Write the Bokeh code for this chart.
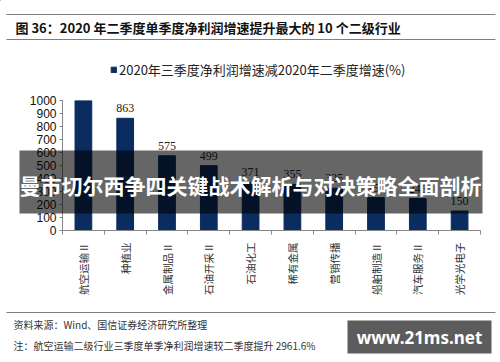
import math
from bokeh.plotting import figure
from bokeh.models import (ColumnDataSource, LabelSet, Legend, LegendItem,
                          FixedTicker, Range1d, GridBox)
from bokeh.core.properties import value
from bokeh.embed import file_html
from bokeh.resources import INLINE

categories = ["航空运输Ⅱ", "种植业", "金属制品Ⅱ", "石油开采Ⅱ", "石油化工",
              "稀有金属", "营销传播", "船舶制造Ⅱ", "汽车服务Ⅱ", "光学光电子"]
values = [2961.6, 863, 575, 499, 371, 355, 325, 253, 246, 150]
y_ticks = [0, 100, 200, 300, 400, 500, 600, 700, 800, 900, 1000]
y_max = 1000
series_name = "2020年三季度净利润增速减2020年二季度增速(%)"
title_text = "图 36：2020 年二季度单季度净利润增速提升最大的 10 个二级行业"
source_text = "资料来源：Wind、国信证券经济研究所整理"
note_text = "注：航空运输二级行业三季度单季净利润增速较二季度提升 2961.6%"
banner_text = "曼市切尔西争四关键战术解析与对决策略全面剖析"
watermark_text = "www.21ms.net"

CJK = "Noto Sans CJK SC"
LAT = "Liberation Sans"
BAR = "#0B2C5F"
W, H = 500, 362

xs = [i + 0.5 for i in range(len(categories))]
labels = [str(int(v)) if v <= y_max else "" for v in values]
src = ColumnDataSource(dict(x=xs, top=values, lab=labels))

FL, FR, FT, FB = 62, 20, 100, 132
FW, FH = W - FL - FR, H - FT - FB

# ---------------- main chart ----------------
p = figure(frame_width=FW, frame_height=FH, x_range=Range1d(0, len(categories)),
           y_range=Range1d(0, y_max), output_backend="svg", toolbar_location=None,
           min_border_left=FL, min_border_right=FR, min_border_top=FT, min_border_bottom=FB)
p.frame_align = False
p.outline_line_color = None
p.xgrid.visible = False
p.ygrid.visible = False
p.background_fill_color = "white"
p.border_fill_color = "white"

r = p.vbar(x="x", top="top", width=0.4, source=src, fill_color=BAR, line_color=BAR)

p.add_layout(LabelSet(x="x", y="top", text="lab", source=src, y_offset=6,
                      text_align="center", text_baseline="bottom",
                      text_font=LAT, text_font_size="12px", text_color="#222222"))

p.xaxis.ticker = FixedTicker(ticks=xs, minor_ticks=list(range(len(categories) + 1)))
p.xaxis.major_label_overrides = {x: c for x, c in zip(xs, categories)}
p.xaxis.major_label_orientation = math.pi / 2
p.xaxis.major_tick_out = 0
p.xaxis.major_tick_in = 0
p.xaxis.minor_tick_out = 4
p.xaxis.minor_tick_in = 0
p.xaxis.minor_tick_line_color = "#868686"
p.xaxis.axis_line_color = "#868686"
p.xaxis.major_label_text_font = CJK
p.xaxis.major_label_text_font_size = "10.5px"
p.xaxis.major_label_text_color = "#333333"
p.xaxis.major_label_standoff = 8

p.yaxis.ticker = FixedTicker(ticks=y_ticks, minor_ticks=[])
p.yaxis.major_tick_out = 3
p.yaxis.major_tick_in = 0
p.yaxis.major_tick_line_color = "#868686"
p.yaxis.axis_line_color = "#868686"
p.yaxis.major_label_text_font = LAT
p.yaxis.major_label_text_font_size = "12px"
p.yaxis.major_label_text_color = "#111111"
p.yaxis.major_label_standoff = 3

# ---------------- overlay (page decorations, legend, banner, watermark) ----------------
o = figure(width=W, height=H, x_range=Range1d(0, W), y_range=Range1d(H, 0),
           x_axis_type=None, y_axis_type=None, output_backend="svg", toolbar_location=None,
           min_border=0)
o.frame_align = False
o.outline_line_color = None
o.xgrid.visible = False
o.ygrid.visible = False
o.background_fill_color = None
o.border_fill_color = None

# horizontal rules
o.segment(x0=[6, 6, 6], x1=[495, 495, 495], y0=[14, 39, 312], y1=[14, 39, 312],
          line_color="#7f7f7f", line_width=1.2)

o.text(x=[15], y=[27], text=[title_text], text_font=value(CJK), text_font_size="13px",
       text_font_style="bold", text_color="#111111", text_baseline="middle")
o.text(x=[13, 13], y=[324, 345], text=[source_text, note_text], text_font=value(CJK),
       text_font_size="10px", text_color="#333333", text_baseline="middle")

# legend swatch renderer (kept off-canvas, styled as the bars)
dummy = o.vbar(x=[-100], top=[-100], bottom=[-90], width=1, fill_color=BAR, line_color=BAR)
legend = Legend(items=[LegendItem(label=series_name, renderers=[dummy])],
                location=(110, H - 79), orientation="horizontal",
                background_fill_alpha=0, border_line_alpha=0, padding=0, margin=0,
                label_text_font=CJK, label_text_font_size="13px", label_text_color="#222222",
                label_standoff=2, label_height=14, glyph_height=7, glyph_width=7)
o.add_layout(legend)

# banner overlay
o.quad(left=[19], right=[482], top=[150], bottom=[213], fill_color="black",
       fill_alpha=0.6, line_alpha=0)
o.text(x=[250], y=[184], text=[banner_text], text_font=value(CJK), text_font_size="21px",
       text_font_style="bold", text_color="white", text_align="center",
       text_baseline="middle")

# watermark
o.quad(left=[347], right=[491], top=[320], bottom=[353], fill_color="#505050",
       fill_alpha=0.93, line_alpha=0)
o.text(x=[419], y=[337], text=[watermark_text], text_font=value("Noto Sans"),
       text_font_size="17px", text_font_style="bold", text_color="white",
       text_align="center", text_baseline="middle")

layout = GridBox(children=[(p, 0, 0), (o, 0, 0)])
open("out.html", "w").write(file_html(layout, INLINE))
